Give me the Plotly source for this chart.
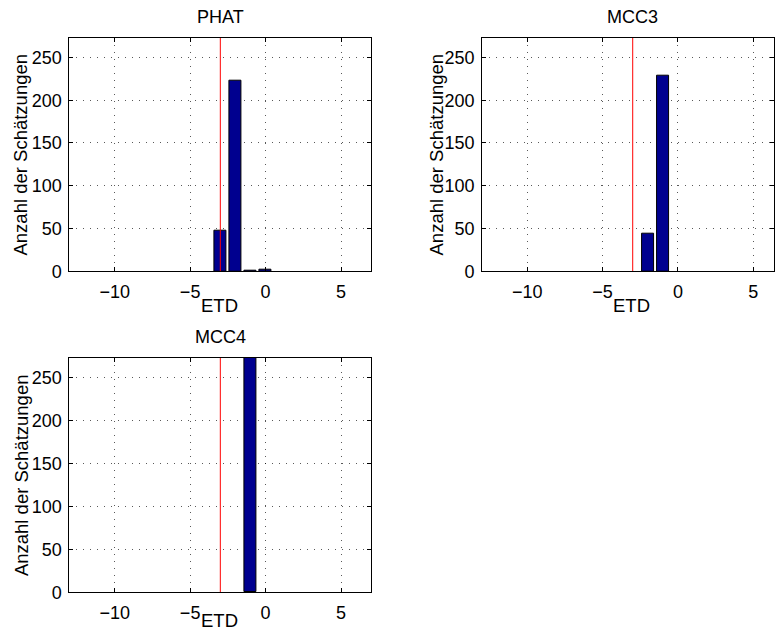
import plotly.graph_objects as go

# Histogram counts of the time-difference estimates (ETD), one panel per method
methods = ["PHAT", "MCC3", "MCC4"]
etd_bins_phat = [-3, -2, -1, 0]
counts_phat = [47, 223, 1, 2]
etd_bins_mcc3 = [-2, -1]
counts_mcc3 = [44, 229]
etd_bins_mcc4 = [-1]
counts_mcc4 = [273]
true_etd = -3
x_ticks = [-10, -5, 0, 5]
y_ticks = [0, 50, 100, 150, 200, 250]
y_max = 273

W, H = 775, 639
FONT = "Liberation Sans, Arial, Helvetica, sans-serif"
BAR_COLOR = "#00008f"


def px_x(p):
    return p / W


def px_y(p):
    return 1 - p / H


# panel boxes in pixels: (left, right, top, bottom), x range, x-label offset
panels = [
    dict(box=(69.5, 371.7, 38.3, 275.7), xr=[-13, 7], xlab=35),
    dict(box=(482.7, 775.0, 38.3, 275.7), xr=[-13, 6.38], xlab=35),
    dict(box=(69.5, 371.7, 363.7, 601.7), xr=[-13, 7], xlab=29),
]
series = [
    (etd_bins_phat, counts_phat),
    (etd_bins_mcc3, counts_mcc3),
    (etd_bins_mcc4, counts_mcc4),
]

fig = go.Figure()
layout = dict(
    width=W,
    height=H,
    margin=dict(l=0, r=0, t=0, b=0),
    paper_bgcolor="white",
    plot_bgcolor="white",
    showlegend=False,
    font=dict(family=FONT, size=18, color="black"),
    bargap=0,
)

annotations = []
for i, (pan, (bins, counts), name) in enumerate(zip(panels, series, methods)):
    sfx = "" if i == 0 else str(i + 1)
    xa, ya = "x" + sfx, "y" + sfx
    left, right, top, bottom = pan["box"]

    fig.add_trace(go.Bar(
        x=bins, y=counts, width=0.8, xaxis=xa, yaxis=ya,
        marker=dict(color=BAR_COLOR, line=dict(color="black", width=1)),
    ))
    fig.add_trace(go.Scatter(
        x=[true_etd, true_etd], y=[0, y_max], mode="lines",
        line=dict(color="red", width=1), xaxis=xa, yaxis=ya,
    ))

    common = dict(
        showline=True, linecolor="black", linewidth=1, mirror="ticks",
        ticks="inside", ticklen=4, tickcolor="black", tickwidth=1,
        showgrid=True, gridcolor="rgba(0,0,0,0.65)", gridwidth=1,
        griddash="1px,6px", zeroline=False,
        tickfont=dict(family=FONT, size=18, color="black"),
    )
    layout["xaxis" + sfx] = dict(
        common, domain=[px_x(left), px_x(right)], range=pan["xr"],
        tickvals=x_ticks, anchor=ya, ticklabelstandoff=4,
    )
    layout["yaxis" + sfx] = dict(
        common, domain=[px_y(bottom), px_y(top)], range=[0, y_max],
        tickvals=y_ticks, anchor=xa, ticklabelstandoff=3,
    )

    # centre of the panel as it would be with the full x range
    px_per_unit = (right - left) / (pan["xr"][1] - pan["xr"][0])
    cx = left + px_per_unit * 10
    cy = (top + bottom) / 2
    annotations.append(dict(
        text=name, x=px_x(cx), y=px_y(top - 21.5), xref="paper", yref="paper",
        showarrow=False, xanchor="center", yanchor="middle",
        font=dict(family=FONT, size=18, color="black"),
    ))
    annotations.append(dict(
        text="ETD", x=px_x(cx - 1), y=px_y(bottom + pan["xlab"]),
        xref="paper", yref="paper",
        showarrow=False, xanchor="center", yanchor="middle",
        font=dict(family=FONT, size=18.5, color="black"),
    ))
    ylab_x = 437.5 if i == 1 else 21
    annotations.append(dict(
        text="Anzahl der Schätzungen", x=px_x(ylab_x), y=px_y(cy),
        xref="paper", yref="paper", textangle=-90,
        showarrow=False, xanchor="center", yanchor="middle",
        font=dict(family=FONT, size=18.5, color="black"),
    ))

layout["annotations"] = annotations
fig.update_layout(**layout)
fig.write_html("out.html")
